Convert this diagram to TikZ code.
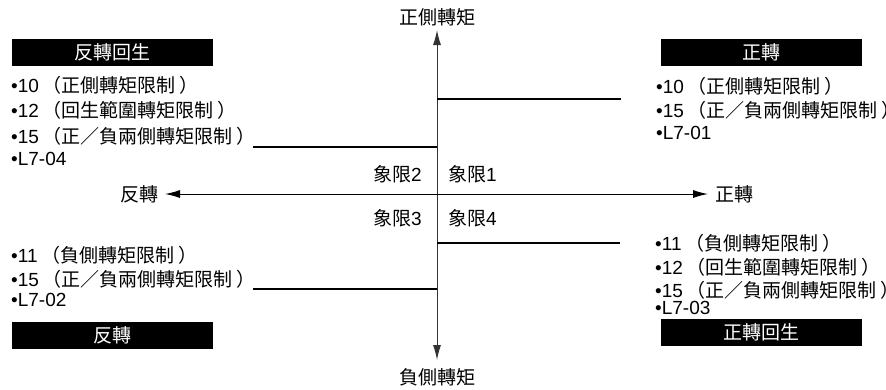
\documentclass[tikz,border=0pt]{standalone}
\usepackage{fontspec}
\setmainfont{Liberation Sans}
\newfontfamily\cjk{Noto Sans CJK TC}
\usetikzlibrary{arrows.meta}
\newcommand{\bl}[2]{•#1\hspace{4pt}{\cjk （#2\hspace{4pt}\makebox[9pt][l]{）}}}
\tikzset{
  txt/.style={font=\fontsize{19}{19}\selectfont, inner sep=0pt, text=black},
  row/.style={txt, anchor=west},
  hdr/.style={txt, fill=black, text=white, minimum width=201pt, minimum height=27pt, font=\fontsize{19}{19}\selectfont\cjk},
  axis/.style={line width=1pt, draw=black, {Latex[length=15pt,width=8pt]}-{Latex[length=15pt,width=8pt]}},
  lim/.style={line width=1.7pt, draw=black}
}
\begin{document}
\begin{tikzpicture}[x=1pt,y=-1pt]
\useasboundingbox (0,0) rectangle (886,389);
% axes
\coordinate (vt) at (437,30);
\coordinate (vb) at (437,360);
\coordinate (hl) at (165,194);
\coordinate (hr) at (708,194);
\draw[axis, draw=black!80] (vb) -- (vt);
\draw[axis] (hl) -- (hr);
\node[txt] (tq) at (437,17) {\cjk 正側轉矩};
\node[txt] (bq) at (437,377) {\cjk 負側轉矩};
\node[txt, anchor=east] (rev) at (159,194) {\cjk 反轉};
\node[txt, anchor=west] (fwd) at (715,194) {\cjk 正轉};
% quadrant labels
\node[txt, anchor=east] (q2) at (422,174) {{\cjk 象限}2};
\node[txt, anchor=west] (q1) at (448,174) {{\cjk 象限}1};
\node[txt, anchor=east] (q3) at (422,218) {{\cjk 象限}3};
\node[txt, anchor=west] (q4) at (448,218) {{\cjk 象限}4};
% limit lines
\coordinate (l1a) at (437,99);  \coordinate (l1b) at (621,99);
\coordinate (l2a) at (253,147); \coordinate (l2b) at (437,147);
\coordinate (l4a) at (437,243); \coordinate (l4b) at (620,243);
\coordinate (l3a) at (253,289); \coordinate (l3b) at (437,289);
\draw[lim] (l1a) -- (l1b);
\draw[lim] (l2a) -- (l2b);
\draw[lim] (l4a) -- (l4b);
\draw[lim] (l3a) -- (l3b);
% headers
\node[hdr] (h2) at (112.5,52.5) {反轉回生};
\node[hdr] (h1) at (761,52.5) {正轉};
\node[hdr] (h3) at (112.5,335.5) {反轉};
\node[hdr] (h4) at (761,332.5) {正轉回生};
% quadrant 2 list
\node[row] (a1) at (11,85) {\bl{10}{正側轉矩限制}};
\node[row] (a2) at (11,110.5) {\bl{12}{回生範圍轉矩限制}};
\node[row] (a3) at (11,136) {\bl{15}{正／負兩側轉矩限制}};
\node[row] (a4) at (11,159) {•L7-04};
% quadrant 1 list
\node[row] (b1) at (656,86) {\bl{10}{正側轉矩限制}};
\node[row] (b2) at (656,110) {\bl{15}{正／負兩側轉矩限制}};
\node[row] (b3) at (656,133) {•L7-01};
% quadrant 3 list
\node[row] (c1) at (11,255) {\bl{11}{負側轉矩限制}};
\node[row] (c2) at (11,279) {\bl{15}{正／負兩側轉矩限制}};
\node[row] (c3) at (11,300) {•L7-02};
% quadrant 4 list
\node[row] (d1) at (655,243) {\bl{11}{負側轉矩限制}};
\node[row] (d2) at (655,267) {\bl{12}{回生範圍轉矩限制}};
\node[row] (d3) at (655,290) {\bl{15}{正／負兩側轉矩限制}};
\node[row] (d4) at (655,308) {•L7-03};
\end{tikzpicture}
\end{document}
